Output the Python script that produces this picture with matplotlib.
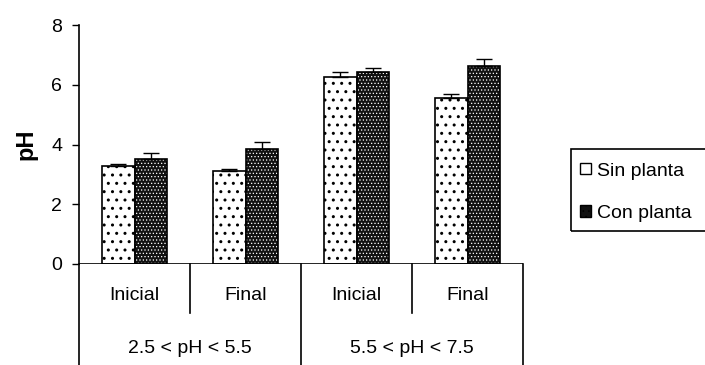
import numpy as np
import matplotlib
matplotlib.use('Agg')
import matplotlib.pyplot as plt
from matplotlib.patches import Patch, Rectangle

plt.rcParams['font.family'] = ['Liberation Sans', 'DejaVu Sans']

etapas = ['Inicial', 'Final', 'Inicial', 'Final']
rangos = ['2.5 < pH < 5.5', '5.5 < pH < 7.5']
sin_planta = [3.29, 3.10, 6.25, 5.57]
sin_planta_err = [0.06, 0.07, 0.17, 0.12]
con_planta = [3.53, 3.85, 6.44, 6.63]
con_planta_err = [0.18, 0.23, 0.12, 0.24]

fs = 14

fig = plt.figure(figsize=(7.05, 3.65), dpi=100)
ax = fig.add_axes([79 / 705, 101 / 365, 444 / 705, 239 / 365])

x = np.arange(len(etapas))
w = 0.29

# barras "sin planta": blanco con puntos dispersos
ax.bar(x - w / 2, sin_planta, w, color='white', edgecolor='black',
       hatch='..', linewidth=1.2, zorder=2)
ax.errorbar(x - w / 2, sin_planta, yerr=[np.zeros(4), sin_planta_err],
            fmt='none', ecolor='black', elinewidth=1, capsize=6, zorder=3)

# barras "con planta": negro con puntos blancos
plt.rcParams['hatch.linewidth'] = 0.5
ax.bar(x + w / 2, con_planta, w, color='#111111', edgecolor='white',
       hatch='.....', linewidth=0, zorder=2)
ax.bar(x + w / 2, con_planta, w, fill=False, edgecolor='black',
       linewidth=1.2, zorder=3)
ax.errorbar(x + w / 2, con_planta, yerr=[np.zeros(4), con_planta_err],
            fmt='none', ecolor='black', elinewidth=1, capsize=6, zorder=3)

ax.set_xlim(-0.5, 3.5)
ax.set_ylim(0, 8)
ax.set_yticks([0, 2, 4, 6, 8])
ax.tick_params(axis='y', length=5, width=1, pad=7, labelsize=fs)
ax.set_xticks([])
for s in ['top', 'right', 'bottom']:
    ax.spines[s].set_visible(False)
ax.spines['left'].set_linewidth(1.2)
ax.axhline(0, color='black', lw=1.2, zorder=4)

# divisiones de categorias bajo el eje
tr = ax.get_xaxis_transform()
for xd in [-0.5, 1.5, 3.5]:
    ax.plot([xd, xd], [0, -0.43], color='black', lw=1.2, transform=tr, clip_on=False)
for xd in [0.5, 2.5]:
    ax.plot([xd, xd], [0, -0.205], color='black', lw=1.2, transform=tr, clip_on=False)

for xi, lab in zip(x, etapas):
    ax.text(xi, -0.13, lab, transform=tr, ha='center', va='center', fontsize=fs)
for gi, lab in enumerate(rangos):
    ax.text(2 * gi + 0.5, -0.352, lab, transform=tr, ha='center', va='center', fontsize=fs)

ax.set_ylabel('pH', fontsize=17, fontweight='bold', labelpad=10)

handles = [Patch(facecolor='white', edgecolor='black', label='Sin planta'),
           Patch(facecolor='#111111', edgecolor='black', hatch='...', label='Con planta')]
leg = fig.legend(handles=handles, loc='upper left', bbox_to_anchor=(566 / 705, 1 - 149 / 365),
                 fontsize=fs, frameon=False,
                 handlelength=0.6, handleheight=0.5, handletextpad=0.3,
                 borderpad=0.7, labelspacing=1.3, borderaxespad=0)
# marco de la leyenda, abierto hacia el borde derecho
fig.patches.append(Rectangle((571 / 705, 134 / 365), 140 / 705, 82 / 365,
                             transform=fig.transFigure, fill=False,
                             edgecolor='black', linewidth=1.2))

fig.savefig('out.png', dpi=100)
